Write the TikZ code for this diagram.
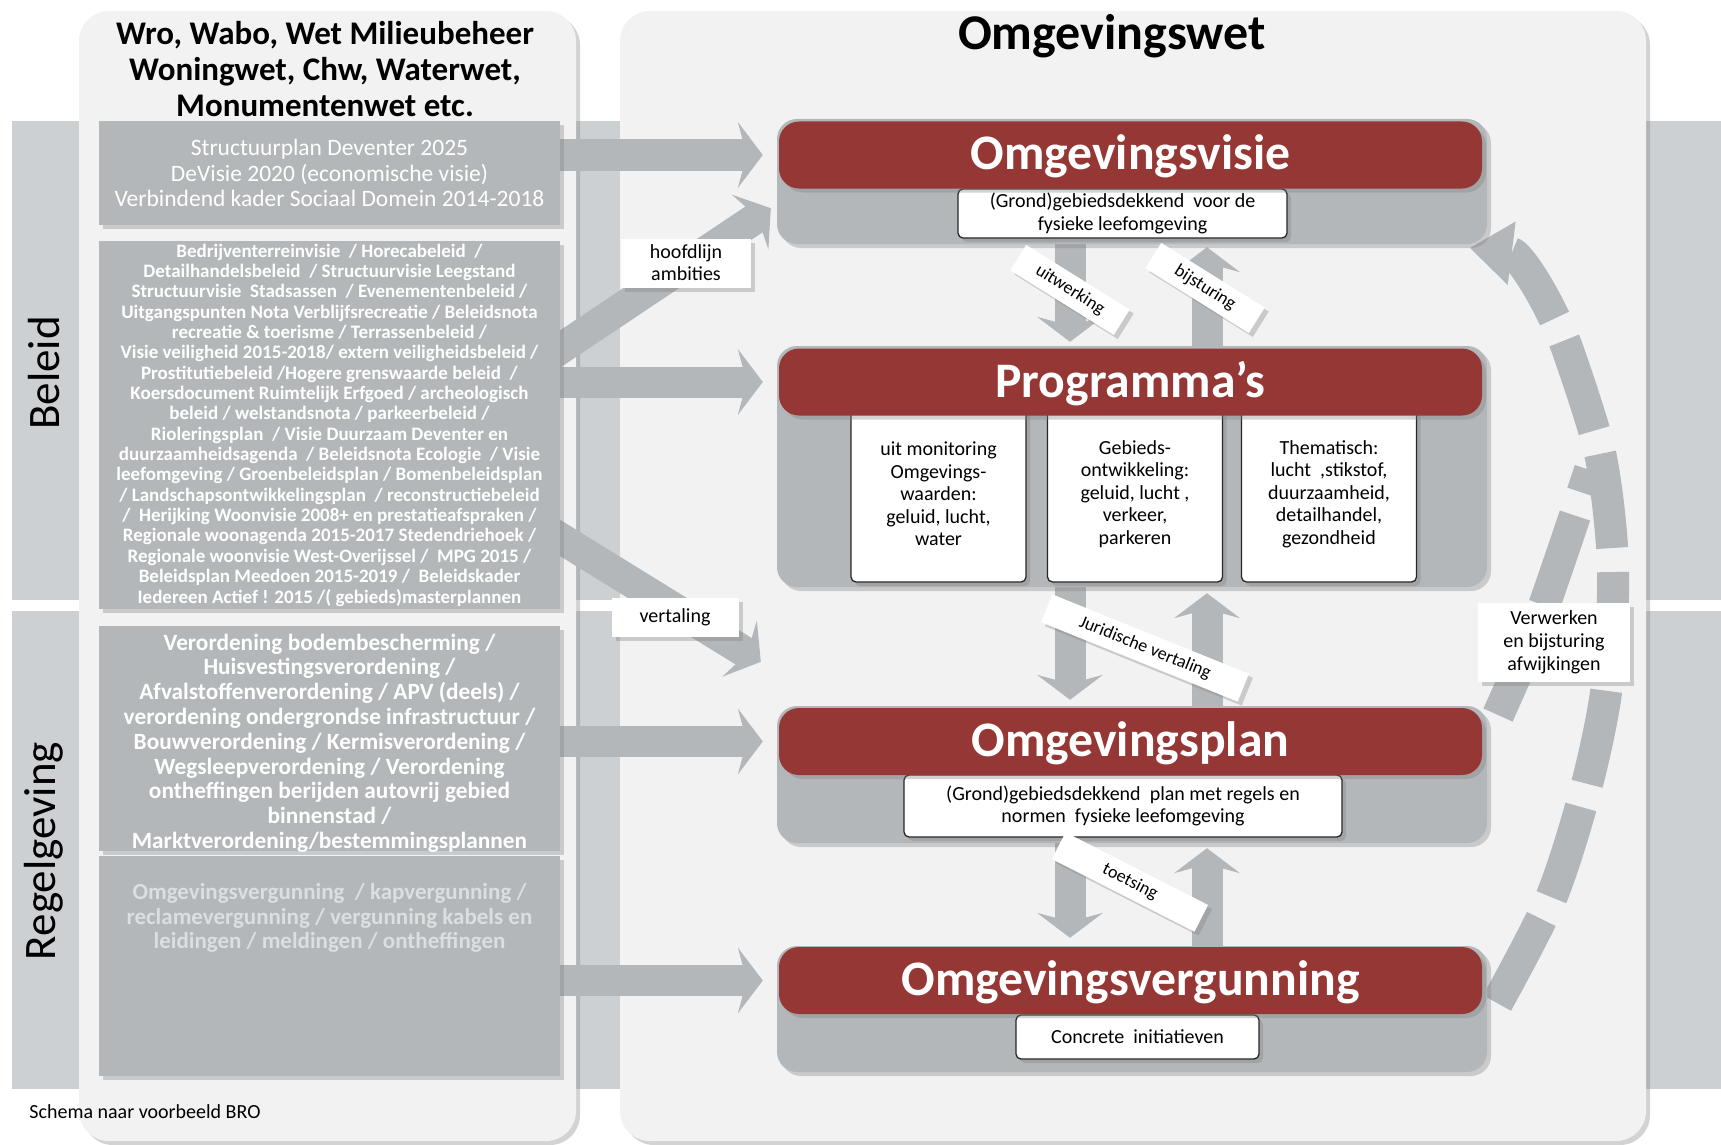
\documentclass[tikz,border=0pt]{standalone}
\usepackage{fontspec}
\setmainfont{Carlito}
\usetikzlibrary{arrows.meta,shadows}
\definecolor{band}{HTML}{CDD0D2}
\definecolor{paneel}{HTML}{F2F2F2}
\definecolor{grijs}{HTML}{B3B7BA}
\definecolor{rood}{HTML}{953735}
\definecolor{lichtgrijs}{HTML}{DCDEE0}
\pgfdeclarelayer{achter}
\pgfdeclarelayer{pijlen}
\pgfsetlayers{achter,pijlen,main}
\begin{document}
\begin{tikzpicture}[x=1pt, y=-1pt,
    schaduw/.style={drop shadow={shadow xshift=4pt, shadow yshift=-4pt, opacity=.35}},
    vak/.style={fill=grijs, text=white, align=center, inner sep=0pt, minimum width=461pt, schaduw},
    blok/.style={fill=grijs, rounded corners=20pt, minimum width=710pt, schaduw},
    kop/.style={fill=rood, text=white, rounded corners=20pt, minimum width=703pt, minimum height=67pt,
      text depth=5pt, font=\fontsize{49.7}{55}\selectfont\bfseries, schaduw},
    wit/.style={draw=black!85, line width=1.3pt, fill=white, rounded corners=5pt, align=center,
      inner sep=0pt, font=\fontsize{20}{22.5}\selectfont, schaduw},
    etiket/.style={fill=white, align=center, inner sep=0pt, font=\fontsize{20}{22}\selectfont, schaduw},
    schuin/.style={etiket, minimum height=30pt, font=\fontsize{18}{20}\selectfont},
    pijl/.style={draw=grijs, line width=31pt, -{Stealth[length=25pt, width=66pt, inset=9pt, line width=0pt]}},
    stippel/.style={draw=grijs, line width=32pt, dash pattern=on 95pt off 24pt}
  ]
  \useasboundingbox (0,0) rectangle (1721,1145);

  % achtergrond: banden en panelen
  \begin{pgfonlayer}{achter}
    \fill[band] (12,121) rectangle (1721,600);
    \fill[band] (12,611) rectangle (1721,1089);
    \fill[paneel, rounded corners=30pt, schaduw] (79,11) rectangle (576,1141);
    \fill[paneel, rounded corners=30pt, schaduw] (620,11) rectangle (1646,1141);
  \end{pgfonlayer}

  \node[rotate=90, font=\fontsize{45}{50}\selectfont] (beleid) at (44,373) {Beleid};
  \node[rotate=90, font=\fontsize{45}{50}\selectfont] (regelgeving) at (44,851) {Regelgeving};

  % linker paneel
  \node[font=\fontsize{33}{36}\selectfont\bfseries, align=center] (wetten) at (325,69)
    {Wro, Wabo, Wet Milieubeheer\\Woningwet, Chw, Waterwet,\\Monumentenwet etc.};
  \node[vak, minimum height=104pt, font=\fontsize{23.5}{25.5}\selectfont] (structuur) at (329.5,173)
    {Structuurplan Deventer 2025\\DeVisie 2020 (economische visie)\\Verbindend kader Sociaal Domein 2014-2018};
  \node[vak, minimum height=368pt, font=\fontsize{19}{20.35}\selectfont\bfseries] (nota) at (329.5,425)
    {Bedrijventerreinvisie\ \ / Horecabeleid\ \ /\\
     Detailhandelsbeleid\ \ / Structuurvisie Leegstand\\
     Structuurvisie\ \ Stadsassen\ \ / Evenementenbeleid /\\
     Uitgangspunten Nota Verblijfsrecreatie / Beleidsnota\\
     recreatie \& toerisme / Terrassenbeleid /\\
     Visie veiligheid 2015-2018/ extern veiligheidsbeleid /\\
     Prostitutiebeleid /Hogere grenswaarde beleid\ \ /\\
     Koersdocument Ruimtelijk Erfgoed / archeologisch\\
     beleid / welstandsnota / parkeerbeleid /\\
     Rioleringsplan\ \ / Visie Duurzaam Deventer en\\
     duurzaamheidsagenda\ \ / Beleidsnota Ecologie\ \ / Visie\\
     leefomgeving / Groenbeleidsplan / Bomenbeleidsplan\\
     / Landschapsontwikkelingsplan\ \ / reconstructiebeleid\\
     /\ \ Herijking Woonvisie 2008+ en prestatieafspraken /\\
     Regionale woonagenda 2015-2017 Stedendriehoek /\\
     Regionale woonvisie West-Overijssel /\ \ MPG 2015 /\\
     Beleidsplan Meedoen 2015-2019 /\ \ Beleidskader\\
     Iedereen Actief ! 2015 /( gebieds)masterplannen};
  \node[vak, minimum height=225pt] (verordening) at (329.5,738.5) {};
  \node[text=white, align=center, font=\fontsize{23.3}{24.8}\selectfont\bfseries] (verordtekst) at (329.5,743)
    {Verordening bodembescherming /\\Huisvestingsverordening /\\Afvalstoffenverordening / APV (deels) /\\
     verordening ondergrondse infrastructuur /\\Bouwverordening / Kermisverordening /\\
     Wegsleepverordening / Verordening\\ontheffingen berijden autovrij gebied\\binnenstad /\\
     Marktverordening/bestemmingsplannen};
  \node[vak, minimum height=220pt] (vergunning) at (329.5,966) {};
  \node[text=lichtgrijs, align=center, font=\fontsize{23}{24.8}\selectfont\bfseries] (vergtekst) at (329.5,918)
    {Omgevingsvergunning\ \ / kapvergunning /\\reclamevergunning / vergunning kabels en\\
     leidingen / meldingen / ontheffingen};
  \node[font=\fontsize{20}{22}\selectfont] (bron) at (145,1112) {Schema naar voorbeeld BRO};

  % rechter paneel
  \node[font=\fontsize{50}{55}\selectfont\bfseries] (omgevingswet) at (1112,36) {Omgevingswet};

  \node[blok, minimum height=125pt] (blok1) at (1132,181.5) {};
  \node[wit, minimum width=329pt, minimum height=49pt] (wit1) at (1122.5,213.5)
    {(Grond)gebiedsdekkend\ \ voor de\\fysieke leefomgeving};
  \node[kop] (kop1) at (1130.5,155) {Omgevingsvisie};

  \node[blok, minimum height=241pt] (blok2) at (1132,466.5) {};
  \node[wit, minimum width=175pt, minimum height=176pt] (monitoring) at (938.5,494)
    {uit monitoring\\Omgevings-\\waarden:\\geluid, lucht,\\water};
  \node[wit, minimum width=175pt, minimum height=176pt] (gebied) at (1135,494)
    {Gebieds-\\ontwikkeling:\\geluid,\ lucht ,\\verkeer,\\parkeren};
  \node[wit, minimum width=175pt, minimum height=176pt] (thema) at (1329,494)
    {Thematisch:\\lucht\ \ ,stikstof,\\duurzaamheid,\\detailhandel,\\gezondheid};
  \node[kop] (kop2) at (1130.5,382) {Programma’s};

  \node[blok, minimum height=137pt] (blok3) at (1132,774.5) {};
  \node[wit, minimum width=438pt, minimum height=62pt] (wit3) at (1123,806)
    {(Grond)gebiedsdekkend\ \ plan met regels en\\normen\ \ fysieke leefomgeving};
  \node[kop] (kop3) at (1130.5,741.5) {Omgevingsplan};

  \node[blok, minimum height=126pt] (blok4) at (1132,1009) {};
  \node[wit, minimum width=243pt, minimum height=44pt] (wit4) at (1137.5,1037) {Concrete\ \ initiatieven};
  \node[kop] (kop4) at (1130.5,980.5) {Omgevingsvergunning};

  % pijlen
  \begin{pgfonlayer}{pijlen}
    \draw[pijl] (structuur.east |- kop1) -- ([xshift=-16pt]kop1.west);
    \draw[pijl] ([xshift=-60pt,yshift=36pt]nota.east) -- ([xshift=-6pt,yshift=36pt]blok1.south west);
    \draw[pijl] (nota.east |- kop2) -- ([xshift=-16pt]kop2.west);
    \draw[pijl] ([xshift=-60pt,yshift=-76pt]nota.east) -- ([xshift=-16pt,yshift=44pt]blok3.north west);
    \draw[pijl] (verordening.east |- kop3) -- ([xshift=-16pt]kop3.west);
    \draw[pijl] (vergunning.east |- kop4) -- ([xshift=-16pt]kop4.west);

    \draw[pijl] ([xshift=-62pt]blok1.south) -- ([xshift=-62pt,yshift=4pt]blok2.north);
    \draw[pijl] ([xshift=75pt]blok2.north) -- ([xshift=75pt,yshift=-3pt]blok1.south);
    \draw[pijl] ([xshift=-62pt]blok2.south) -- ([xshift=-62pt,yshift=6pt]blok3.north);
    \draw[pijl] ([xshift=75pt]blok3.north) -- ([xshift=75pt,yshift=-6pt]blok2.south);
    \draw[pijl] ([xshift=-62pt]blok3.south) -- ([xshift=-62pt,yshift=8pt]blok4.north);
    \draw[pijl] ([xshift=75pt]blok4.north) -- ([xshift=75pt,yshift=-5pt]blok3.south);

    % gestippelde terugkoppeling
    \draw[stippel, -{Triangle[length=42pt, width=64pt, line width=0pt]}]
      plot[smooth] coordinates {(1497,1003) (1551,898) (1586,788) (1607,685) (1613,566) (1600,453) (1566,345)}
      .. controls (1545,292) and (1518,254) .. (1470,248);
    \draw[stippel] plot[smooth] coordinates {(1498,715) (1535,630) (1565,545) (1590,470)};
  \end{pgfonlayer}

  % etiketten
  \node[etiket, minimum width=130pt, minimum height=49pt] (hoofdlijn) at (686,263) {hoofdlijn\\ambities};
  \node[etiket, minimum width=127pt, minimum height=39pt] (vertaling) at (675,617) {vertaling};
  \node[etiket, minimum width=152pt, minimum height=79pt, font=\fontsize{20}{23}\selectfont] (verwerken) at (1554,642)
    {Verwerken\\en bijsturing\\afwijkingen};
  \node[schuin, rotate=-32, minimum width=122pt] (uitwerking) at (1070,290) {uitwerking};
  \node[schuin, rotate=-32, minimum width=122pt] (bijsturing) at (1205,288) {bijsturing};
  \node[schuin, rotate=-22, minimum width=212pt] (juridisch) at (1145,648) {Juridische vertaling};
  \node[schuin, rotate=-27, minimum width=160pt] (toetsing) at (1130,882) {toetsing};
\end{tikzpicture}
\end{document}
